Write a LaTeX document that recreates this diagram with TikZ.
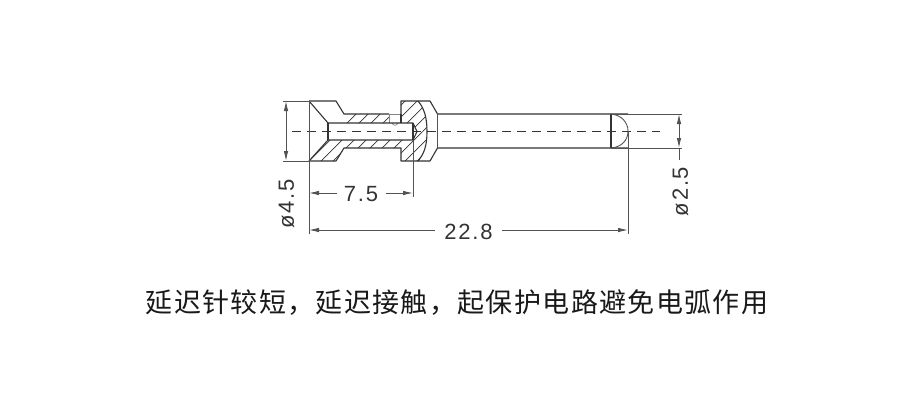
\documentclass[tikz,border=0pt]{standalone}
\usepackage{fontspec}
\setmainfont{Liberation Sans}
\newfontfamily\cjk[LetterSpace=5]{Noto Sans CJK SC}
\newfontfamily\dimfont[LetterSpace=8]{Liberation Sans}
\usetikzlibrary{arrows.meta}
\definecolor{ink}{HTML}{333333}
\tikzset{
  outline/.style={draw=ink,line width=1.1pt},
  thinline/.style={draw=ink!85,line width=0.9pt},
  faintline/.style={draw=ink!60,line width=0.7pt},
  hatchline/.style={draw=ink,line width=0.7pt},
  center/.style={draw=ink,line width=0.9pt,dash pattern=on 9pt off 6pt},
  dimline/.style={draw=ink!85,line width=0.9pt,{Latex[length=10pt,width=4.5pt]}-{Latex[length=10pt,width=4.5pt]}},
  leftarrow/.style={draw=ink!85,line width=0.9pt,{Latex[length=10pt,width=4.5pt]}-},
  rightarrow/.style={draw=ink!85,line width=0.9pt,-{Latex[length=10pt,width=4.5pt]}},
  dimtext/.style={inner sep=0pt,text=ink,font=\dimfont\fontsize{22}{22}\selectfont},
  caption/.style={inner sep=0pt,text=black!90,font=\cjk\fontsize{27}{27}\selectfont}
}
\newcommand{\hatchset}{%
  \foreach \k in {0,12,...,216} {\draw[hatchline] (300+\k,170) -- (300+\k+80,90);}%
}
\begin{document}
\begin{tikzpicture}[x=1pt,y=-1pt]
\useasboundingbox (0,0) rectangle (910,416);
\fill[white] (0,0) rectangle (910,416);
% hatching
\begin{scope}
\clip (309,101) -- (336,101) -- (344,114) -- (389,114) -- (389,123) -- (328,123) -- cycle;
\hatchset
\end{scope}
\begin{scope}
\clip (309,161) -- (328,140) -- (413,140) -- (417,131.5) -- (427,131.5) .. controls (427,146) and (424,154) .. (418,161) -- (401,161) -- (401,148) -- (344,148) -- (336,161) -- cycle;
\hatchset
\end{scope}
\begin{scope}
\clip (401,114) -- (401,101) -- (418,101) .. controls (424,108) and (427,117) .. (427,131.5) -- (417,131.5) -- (413,123) -- (401,123) -- cycle;
\hatchset
\end{scope}
% outline
\draw[outline,line join=round] (309,101) -- (336,101) -- (344,114) -- (389,114);
\draw[outline,line join=round] (309,161) -- (336,161) -- (344,148) -- (401,148) -- (401,161) -- (430,161) -- (437.5,148) -- (628,148);
\draw[outline,line join=round] (401,114) -- (401,101) -- (430,101) -- (437.5,114) -- (628,114);
\draw[faintline] (389,114) -- (401,114);
\draw[faintline] (389,114) -- (389,123);
\draw[faintline] (392,123) .. controls (393,126) and (397,126) .. (398,123);
\draw[outline] (401,114) -- (401,123);
\draw[thinline] (437.5,114) -- (437.5,148);
\draw[outline] (418,101) .. controls (424,108) and (427,117) .. (427,131.5) .. controls (427,146) and (424,154) .. (418,161);
% bore
\draw[outline,line join=round] (309,101) -- (328,123) -- (413,123) -- (417,131.5) -- (413,140) -- (328,140) -- (309,161);
\draw[outline] (328,123) -- (328,140);
\draw[outline] (413,123) -- (413,140);
% tip
\draw[outline] (611,114) -- (611,148);
\draw[thinline] (611,114) .. controls (622,115) and (628,123) .. (628,131) .. controls (628,140) and (622,147) .. (611,148);
% centre line
\coordinate (cl) at (292,131.5);
\coordinate (cr) at (660,131.5);
\draw[center] (cl) -- (cr);
% left dimension
\coordinate (la) at (286,101);
\coordinate (lb) at (286,161);
\draw[thinline] (283,101) -- (309,101);
\draw[thinline] (283,161) -- (309,161);
\draw[dimline] (la) -- (lb);
\node[dimtext,rotate=90] (d45) at (286.5,204) {ø4.5};
% extension lines
\coordinate (e1) at (309,234);
\coordinate (e2) at (413,197);
\coordinate (e3) at (628,234);
\draw[thinline] (309,101) -- (e1);
\draw[thinline] (413,140) -- (e2);
\draw[thinline] (628,131) -- (e3);
% 7.5
\node[dimtext] (d75) at (361,194.5) {7.5};
\draw[leftarrow] (309,193) -- (337,193);
\draw[rightarrow] (386,193) -- (413,193);
% 22.8
\node[dimtext] (d228) at (468.5,231.5) {22.8};
\draw[leftarrow] (309,230) -- (435,230);
\draw[rightarrow] (502,230) -- (628,230);
% right dimension
\draw[thinline] (611,114) -- (682,114);
\draw[thinline] (611,148) -- (682,148);
\coordinate (ra) at (679,114);
\coordinate (rb) at (679,148);
\coordinate (rc) at (679,160);
\draw[dimline] (ra) -- (rb);
\draw[thinline] (rb) -- (rc);
\node[dimtext,rotate=90] (d25) at (680.5,191.5) {ø2.5};
% caption
\node[caption] (cap) at (457,303) {延迟针较短，延迟接触，起保护电路避免电弧作用};
\end{tikzpicture}
\end{document}
